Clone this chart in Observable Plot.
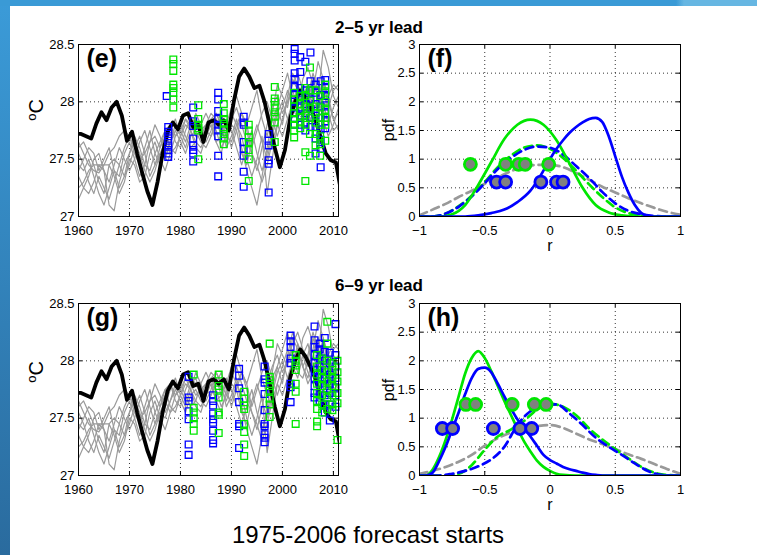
<!DOCTYPE html>
<html>
<head>
<meta charset="utf-8">
<script src="https://cdn.jsdelivr.net/npm/d3@7"></script>
<script src="https://cdn.jsdelivr.net/npm/@observablehq/plot@0.6"></script>
<style>
html,body{margin:0;padding:0;background:#fff;}
#page{position:relative;width:757px;height:555px;overflow:hidden;background:#fff;font-family:"Liberation Sans",Arial,Helvetica,sans-serif;}
#leftbar{position:absolute;left:0;top:0;width:10px;height:555px;background:linear-gradient(#3b9bd8,#2a6b9e);}
#topbar{position:absolute;left:0;top:0;width:757px;height:6px;background:linear-gradient(90deg,#3a9ad6 0,#3a9ad6 676px,#66b6e2 684px,#66b6e2 100%);}
#overlay{position:absolute;left:0;top:0;pointer-events:none;}
</style>
</head>
<body>
<div id="page">
  <div id="leftbar"></div>
  <div id="topbar"></div>
  <svg id="overlay" width="757" height="555" font-family="Liberation Sans, Arial, Helvetica, sans-serif">
    <text x="379" y="33" text-anchor="middle" font-size="17" font-weight="bold">2–5 yr lead</text>
    <text x="379" y="291" text-anchor="middle" font-size="17" font-weight="bold">6–9 yr lead</text>
    <text transform="translate(43,110) rotate(-90)" text-anchor="middle" font-size="20"><tspan font-size="13" dy="-7">o</tspan><tspan dy="7">C</tspan></text>
    <text transform="translate(43,372) rotate(-90)" text-anchor="middle" font-size="20"><tspan font-size="13" dy="-7">o</tspan><tspan dy="7">C</tspan></text>
    <text transform="translate(394,130) rotate(-90)" text-anchor="middle" font-size="16">pdf</text>
    <text transform="translate(394,390) rotate(-90)" text-anchor="middle" font-size="16">pdf</text>
    <text x="550" y="251" text-anchor="middle" font-size="16">r</text>
    <text x="550" y="510" text-anchor="middle" font-size="16">r</text>
    <text x="368" y="543" text-anchor="middle" font-size="24">1975-2006 forecast starts</text>
  </svg>
</div>
<script>
// ---------- time-series data (panels e, g) ----------
const yearTicks = [1960, 1970, 1980, 1990, 2000, 2010];
const sstTicks = [27, 27.5, 28, 28.5];

// observed annual SST (plotted at mid-year)
const obsYears = [1959,1960,1961,1962,1963,1964,1965,1966,1967,1968,1969,1970,1971,1972,1973,1974,1975,1976,1977,1978,1979,1980,1981,1982,1983,1984,1985,1986,1987,1988,1989,1990,1991,1992,1993,1994,1995,1996,1997,1998,1999,2000,2001,2002,2003,2004,2005,2006,2007,2008,2009,2010,2011];
const obsSST = [27.72,27.72,27.70,27.68,27.81,27.91,27.84,27.95,28.00,27.88,27.66,
  27.74,27.55,27.38,27.22,27.10,27.30,27.55,27.74,27.82,27.76,
  27.88,27.90,27.78,27.80,27.65,27.82,27.84,27.80,27.84,27.75,
  28.01,28.22,28.29,28.22,28.12,28.14,28.00,27.80,27.60,27.43,
  27.58,27.85,28.00,28.10,28.04,27.95,27.84,27.69,27.55,27.49,
  27.47,27.22];

// uninitialised model runs (grey)
const runYears = [1960,1961,1962,1963,1964,1965,1966,1967,1968,1969,1970,1971,1972,1973,1974,1975,1976,1977,1978,1979,1980,1981,1982,1983,1984,1985,1986,1987,1988,1989,1990,1991,1992,1993,1994,1995,1996,1997,1998,1999,2000,2001,2002,2003,2004,2005,2006,2007,2008,2009,2010,2011];
const run1 = [27.65,27.55,27.45,27.40,27.38,27.45,27.55,27.60,27.70,27.75,27.70,27.60,27.50,27.55,27.65,27.70,27.60,27.75,27.80,27.70,27.75,27.85,27.80,27.70,27.75,27.80,27.90,27.85,27.70,27.80,27.95,28.05,27.90,27.80,27.95,28.10,27.85,27.70,27.90,28.15,28.05,27.95,28.20,28.10,27.95,28.05,28.25,28.10,27.90,28.05,28.15,28.10];
const run2 = [27.55,27.45,27.30,27.20,27.35,27.25,27.15,27.30,27.45,27.60,27.70,27.55,27.45,27.60,27.75,27.55,27.45,27.60,27.75,27.85,27.70,27.60,27.75,27.90,27.80,27.65,27.75,27.90,27.80,27.60,27.70,27.85,27.60,27.40,27.25,27.10,27.35,27.60,27.85,27.95,27.80,28.05,28.25,28.15,27.95,27.85,28.05,28.20,28.00,27.80,27.95,28.05];
const run3 = [27.45,27.40,27.50,27.35,27.20,27.10,27.25,27.40,27.35,27.55,27.65,27.50,27.35,27.45,27.65,27.80,27.70,27.55,27.65,27.80,27.75,27.65,27.80,27.85,27.70,27.80,27.85,27.75,27.60,27.70,27.85,27.95,27.80,27.65,27.55,27.40,27.60,27.80,27.95,28.05,27.90,28.00,28.10,27.95,28.20,28.30,28.15,28.05,28.45,28.30,28.05,27.95];
const run4 = [27.35,27.25,27.20,27.30,27.45,27.40,27.10,27.05,27.30,27.45,27.55,27.70,27.60,27.45,27.40,27.55,27.65,27.75,27.60,27.55,27.70,27.80,27.75,27.60,27.55,27.70,27.80,27.65,27.55,27.75,27.90,27.80,27.70,27.50,27.35,27.50,27.70,27.20,27.50,27.80,27.95,28.10,27.95,27.85,28.05,28.15,27.95,28.00,28.20,28.05,27.85,27.90];
const run5 = [27.25,27.30,27.40,27.45,27.45,27.45,27.45,27.50,27.45,27.35,27.45,27.60,27.70,27.55,27.35,27.45,27.60,27.70,27.80,27.65,27.60,27.75,27.85,27.80,27.70,27.75,27.70,27.80,27.90,27.75,27.60,27.75,27.90,27.80,27.60,27.75,27.90,28.00,27.85,27.70,27.85,28.00,28.15,28.25,28.10,27.95,28.10,28.35,28.20,27.95,28.10,28.15];
const run6 = [27.15,27.25,27.35,27.50,27.55,27.40,27.30,27.45,27.60,27.50,27.40,27.50,27.65,27.75,27.60,27.45,27.55,27.50,27.65,27.75,27.65,27.55,27.70,27.75,27.65,27.60,27.70,27.85,27.75,27.65,27.80,27.75,27.55,27.45,27.65,27.80,27.65,27.50,27.70,27.90,28.00,27.85,27.95,28.15,28.05,27.90,27.80,27.95,28.10,27.90,27.75,27.80];
const run7 = [27.60,27.65,27.55,27.45,27.30,27.20,27.45,27.35,27.20,27.30,27.50,27.45,27.30,27.35,27.55,27.65,27.50,27.40,27.55,27.70,27.80,27.70,27.60,27.65,27.80,27.90,27.80,27.65,27.70,27.85,27.75,27.60,27.45,27.60,27.75,27.55,27.40,27.55,27.75,27.95,28.10,28.25,28.05,27.90,27.85,28.00,28.20,28.05,27.85,27.70,27.80,27.95];
const run8 = [27.40,27.50,27.60,27.55,27.40,27.50,27.60,27.40,27.25,27.35,27.55,27.65,27.55,27.40,27.30,27.40,27.55,27.65,27.55,27.60,27.70,27.85,27.75,27.65,27.60,27.70,27.85,27.90,27.80,27.70,27.65,27.80,27.90,27.75,27.55,27.45,27.30,27.45,27.65,27.80,27.70,27.85,28.00,28.10,27.95,27.80,27.90,28.05,28.15,28.00,27.85,27.75];
const modelRuns = [run1, run2, run3, run4, run5, run6, run7, run8];

// forecasts, 2-5 yr lead (panel e)
const eBlueYears = [1977.3, 1977.6, 1982.5, 1987.4, 1992.4, 1997.3, 2002.4, 2003.5, 2004.5, 2005.5, 2006.5, 2007.5, 2008.4];
const eBlueVals = [
  [28.05],
  [27.78,27.74,27.70,27.66,27.62,27.58,27.55,27.52],
  [27.95,27.83,27.79,27.68,27.62,27.58,27.55,27.48],
  [28.08,28.02,27.92,27.85,27.80,27.75,27.70,27.53,27.35],
  [27.87,27.82,27.80,27.65,27.59,27.53,27.39,27.26],
  [27.72,27.66,27.62,27.49,27.46,27.21],
  [28.46,28.42,28.36,28.25,28.20,28.13,28.06,28.00,27.95,27.90,27.85,27.80],
  [28.39,28.26,28.12,28.02,27.95,27.88,27.80],
  [28.35,28.10,28.04,27.98,27.90,27.82,27.75],
  [28.43,28.18,28.10,28.02,27.94,27.86,27.78],
  [28.15,28.08,27.98,27.88,27.78,27.68,27.55],
  [28.18,28.06,27.96,27.86,27.76,27.67,27.59,27.43],
  [28.19,28.12,28.05,27.97,27.90,27.83,27.77]
];
const eGreenYears = [1978.6, 1983.5, 1988.5, 1993.4, 1998.5, 2002.3, 2003.5, 2004.5, 2005.4, 2006.5, 2007.4, 2008.4];
const eGreenVals = [
  [28.37,28.33,28.27,28.15,28.12,28.08,28.02,27.95],
  [27.97,27.85,27.80,27.77,27.75,27.50],
  [27.98,27.90,27.85,27.81,27.76,27.72,27.68,27.63],
  [27.80,27.75,27.69,27.65,27.58,27.50,27.31],
  [28.13,28.03,28.00,27.95,27.91,27.87,27.82,27.65],
  [28.08,28.02,27.96,27.90,27.85,27.80,27.75,27.69],
  [28.05,27.98,27.92,27.87,27.82,27.77],
  [28.12,28.05,27.96,27.88,27.80,27.56,27.31],
  [28.30,28.10,28.01,27.94,27.86,27.72,27.53],
  [28.10,27.96,27.90,27.82,27.72,27.62],
  [28.05,27.95,27.86,27.80,27.70,27.63,27.53],
  [28.15,28.08,28.00,27.93,27.86,27.80,27.66]
];

// forecasts, 6-9 yr lead (panel g)
const gBlueYears = [1981.6, 1986.4, 1991.5, 1996.5, 2001.6, 2006.3, 2007.3, 2008.3, 2009.3, 2010.4];
const gBlueVals = [
  [27.86,27.68,27.65,27.56,27.49,27.27,27.18],
  [27.70,27.65,27.61,27.54,27.49,27.46,27.39,27.31,27.28],
  [27.93,27.87,27.76,27.64,27.45,27.43,27.24],
  [27.95,27.84,27.81,27.71,27.57,27.45,27.43,27.36,27.33,27.29],
  [28.22,28.17,28.12,28.02,27.98,27.80,27.77,27.64],
  [28.30,28.18,28.12,28.05,27.98,27.92,27.85,27.78,27.72,27.68],
  [28.15,28.10,28.02,27.95,27.88,27.80,27.72,27.65],
  [28.20,28.08,28.00,27.92,27.85,27.78,27.70,27.62,27.55],
  [28.07,27.98,27.88,27.80,27.72,27.62,27.48],
  [28.32,28.05,27.95,27.85,27.77,27.70,27.60]
];
const gGreenYears = [1982.6, 1987.5, 1992.5, 1997.5, 2002.6, 2006.8, 2007.8, 2008.8, 2009.8, 2010.8];
const gGreenVals = [
  [27.88,27.59,27.55,27.50,27.45,27.39],
  [27.88,27.78,27.75,27.68,27.55,27.53,27.37],
  [27.73,27.67,27.61,27.58,27.45,27.38,27.27,27.17],
  [28.15,27.86,27.83,27.78,27.74,27.67,27.62,27.51],
  [28.05,28.00,27.96,27.92,27.80,27.73,27.45],
  [28.05,27.95,27.88,27.80,27.72,27.65,27.58,27.47,27.43],
  [28.02,27.92,27.85,27.78,27.70,27.62,27.55],
  [28.34,28.15,28.00,27.90,27.82,27.75,27.68,27.58],
  [27.98,27.92,27.85,27.78,27.70,27.62,27.57],
  [28.00,27.90,27.82,27.72,27.63,27.31]
];

// ---------- pdf data (panels f, h) ----------
const rTicks = [-1, -0.5, 0, 0.5, 1];
const pdfTicks = [0, 0.5, 1, 1.5, 2, 2.5, 3];

const fBlueSolidR = [-1,-0.65,-0.55,-0.45,-0.35,-0.25,-0.15,-0.05,0,0.05,0.1,0.15,0.2,0.25,0.3,0.35,0.4,0.45,0.5,0.55,0.6,0.65,0.7,0.75,0.8,1];
const fBlueSolidP = [0,0,0.02,0.06,0.12,0.25,0.45,0.8,1.0,1.18,1.33,1.46,1.56,1.64,1.7,1.72,1.65,1.4,1.05,0.7,0.42,0.2,0.06,0.01,0,0];
const fGreenSolidR = [-1,-0.85,-0.75,-0.65,-0.55,-0.45,-0.35,-0.25,-0.15,-0.05,0.05,0.15,0.25,0.35,0.45,0.55,0.65,1];
const fGreenSolidP = [0,0,0.04,0.2,0.55,0.95,1.35,1.6,1.69,1.6,1.33,0.92,0.5,0.2,0.07,0.02,0,0];
const fBlueDashR = [-1,-0.9,-0.8,-0.7,-0.6,-0.5,-0.4,-0.3,-0.2,-0.1,0,0.1,0.2,0.3,0.4,0.5,0.6,0.7,0.8,0.9,1];
const fBlueDashP = [0,0,0.05,0.17,0.35,0.58,0.83,1.02,1.16,1.22,1.2,1.08,0.88,0.67,0.43,0.23,0.1,0.04,0.01,0,0];
const fGreenDashR = [-1,-0.9,-0.8,-0.7,-0.6,-0.5,-0.4,-0.3,-0.2,-0.1,0,0.1,0.2,0.3,0.4,0.5,0.6,0.7,0.8,0.9,1];
const fGreenDashP = [0,0,0.05,0.18,0.36,0.6,0.86,1.06,1.2,1.24,1.18,1.02,0.8,0.56,0.34,0.16,0.06,0.02,0,0,0];
const fGrayR = [-1,-0.9,-0.8,-0.7,-0.6,-0.5,-0.4,-0.3,-0.2,-0.1,0,0.1,0.2,0.3,0.4,0.5,0.6,0.7,0.8,0.9,1];
const fGrayP = [0.02,0.12,0.22,0.34,0.45,0.57,0.68,0.79,0.86,0.9,0.9,0.86,0.76,0.64,0.52,0.42,0.32,0.23,0.15,0.08,0.03];
const fBlueDotR = [-0.41,-0.34,-0.07,0.05,0.10];
const fBlueDotP = 0.6;
const fGreenDotR = [-0.61,-0.34,-0.24,-0.19,-0.01];
const fGreenDotP = 0.91;

const hBlueSolidR = [-1,-0.95,-0.9,-0.85,-0.8,-0.75,-0.7,-0.65,-0.6,-0.55,-0.5,-0.45,-0.4,-0.35,-0.3,-0.25,-0.2,-0.15,-0.1,-0.05,0,0.05,0.1,0.15,0.2,0.25,0.3,0.35,0.4,0.5,1];
const hBlueSolidP = [0,0,0.05,0.25,0.5,0.8,1.1,1.42,1.7,1.86,1.88,1.8,1.6,1.38,1.17,0.98,0.83,0.68,0.52,0.36,0.27,0.21,0.15,0.11,0.08,0.05,0.025,0.01,0,0,0];
const hGreenSolidR = [-1,-0.95,-0.9,-0.85,-0.8,-0.75,-0.7,-0.65,-0.6,-0.55,-0.5,-0.45,-0.4,-0.35,-0.3,-0.25,-0.2,-0.15,-0.1,-0.05,0,0.05,0.1,0.2,1];
const hGreenSolidP = [0,0,0.1,0.32,0.62,0.98,1.38,1.78,2.05,2.17,2.05,1.82,1.56,1.3,1.06,0.82,0.6,0.42,0.26,0.15,0.08,0.03,0.01,0,0];
const hBlueDashR = [-1,-0.85,-0.75,-0.65,-0.55,-0.45,-0.35,-0.25,-0.15,-0.05,0.05,0.15,0.25,0.35,0.45,0.55,0.65,0.75,0.85,0.95,1];
const hBlueDashP = [0,0,0.03,0.08,0.16,0.28,0.5,0.88,1.12,1.22,1.24,1.08,0.88,0.66,0.5,0.36,0.21,0.08,0.01,0,0];
const hGreenDashR = [-1,-0.8,-0.7,-0.6,-0.5,-0.4,-0.3,-0.2,-0.1,0,0.1,0.2,0.3,0.4,0.5,0.6,0.7,0.8,0.9,1];
const hGreenDashP = [0,0,0.03,0.18,0.45,0.68,0.8,0.95,1.15,1.25,1.2,1.05,0.82,0.63,0.46,0.3,0.15,0.05,0.01,0];
const hGrayR = [-1,-0.9,-0.8,-0.7,-0.6,-0.5,-0.4,-0.3,-0.2,-0.1,0,0.1,0.2,0.3,0.4,0.5,0.6,0.7,0.8,0.9,1];
const hGrayP = [0.03,0.08,0.15,0.24,0.36,0.52,0.65,0.75,0.82,0.86,0.88,0.83,0.73,0.63,0.55,0.46,0.37,0.29,0.2,0.11,0.03];
const hBlueDotR = [-0.825,-0.746,-0.434,-0.23,-0.14];
const hBlueDotP = 0.82;
const hGreenDotR = [-0.644,-0.57,-0.29,-0.12,-0.03];
const hGreenDotP = 1.24;

// ---------- drawing ----------
const FONT = '"Liberation Sans", Arial, Helvetica, sans-serif';
const BLUE = "#0000ff", GREEN = "#00e600", GREY = "#9a9a9a", GREYDASH = "#999999";
const fmt = d => d < 0 ? "\u2212" + Math.abs(d) : String(d);
const gridStyle = {stroke: "#000", strokeOpacity: 0.8, strokeDasharray: "1,3", strokeWidth: 1};

function boxTicks(xt, yt, fw, fh) {
  const L = 4;
  return [
    Plot.tickX(xt, {x: d => d, insetTop: fh - L, stroke: "#000"}),
    Plot.tickX(xt, {x: d => d, insetBottom: fh - L, stroke: "#000"}),
    Plot.tickY(yt, {y: d => d, insetRight: fw - L, stroke: "#000"}),
    Plot.tickY(yt, {y: d => d, insetLeft: fw - L, stroke: "#000"})
  ];
}

function place(chart, left, top) {
  chart.style.position = "absolute";
  chart.style.left = left + "px";
  chart.style.top = top + "px";
  document.getElementById("page").insertBefore(chart, document.getElementById("overlay"));
}

const ML = 58, MT = 10, MR = 12, MB = 28;
const labelText = (label) => Plot.text([label], {text: d => d, frameAnchor: "top-left", dx: 8, dy: 5, fontSize: 25, fontWeight: "bold", textAnchor: "start", lineAnchor: "top"});

function tsPanel(label, blueYears, blueVals, greenYears, greenVals, left, top) {
  const fw = 260, fh = 172;
  const obs = obsYears.map((y, i) => ({t: y + 0.5, v: obsSST[i]}));
  const runs = modelRuns.flatMap((run, k) => run.map((v, i) => ({k, t: runYears[i], v})));
  const sq = (ys, vs) => ys.flatMap((y, i) => vs[i].map(v => ({t: y, v})));
  const chart = Plot.plot({
    width: ML + fw + MR, height: MT + fh + MB,
    marginLeft: ML, marginRight: MR, marginTop: MT, marginBottom: MB,
    style: {fontFamily: FONT, fontSize: "13px", color: "#000", background: "none", overflow: "visible"},
    x: {domain: [1960, 2011], label: null},
    y: {domain: [27, 28.5], label: null},
    marks: [
      Plot.gridX(yearTicks, gridStyle),
      Plot.gridY(sstTicks, gridStyle),
      Plot.line(runs, {x: "t", y: "v", z: "k", stroke: GREY, strokeWidth: 1.2, clip: true}),
      Plot.line(obs, {x: "t", y: "v", stroke: "#000", strokeWidth: 3.8, clip: true}),
      Plot.dot(sq(blueYears, blueVals), {x: "t", y: "v", symbol: "square", r: 3.8, stroke: BLUE, strokeWidth: 1.3, fill: "none"}),
      Plot.dot(sq(greenYears, greenVals), {x: "t", y: "v", symbol: "square", r: 3.8, stroke: GREEN, strokeWidth: 1.3, fill: "none"}),
      ...boxTicks(yearTicks, sstTicks, fw, fh),
      Plot.frame({stroke: "#000"}),
      Plot.axisX(yearTicks, {tickSize: 0, tickPadding: 9, tickFormat: d => String(d), label: null}),
      Plot.axisY(sstTicks, {tickSize: 0, tickPadding: 4, tickFormat: fmt, label: null}),
      labelText(label)
    ]
  });
  place(chart, left, top);
}

function pdfPanel(label, curves, dots, left, top) {
  const fw = 261, fh = 172;
  const lines = curves.map(c => Plot.line(c.r.map((r, i) => ({r, p: c.p[i]})), {
    x: "r", y: "p", stroke: c.color, strokeWidth: 2.7, curve: "monotone-x",
    strokeDasharray: c.dash ? "8,5" : null, clip: true
  }));
  const dotMarks = dots.map(d => Plot.dot(d.r.map(r => ({r, p: d.p})), {
    x: "r", y: "p", r: 6, fill: "#808080", stroke: d.color, strokeWidth: 2.8
  }));
  const chart = Plot.plot({
    width: ML + fw + MR, height: MT + fh + MB,
    marginLeft: ML, marginRight: MR, marginTop: MT, marginBottom: MB,
    style: {fontFamily: FONT, fontSize: "13px", color: "#000", background: "none", overflow: "visible"},
    x: {domain: [-1, 1], label: null},
    y: {domain: [0, 3], label: null},
    marks: [
      Plot.gridX(rTicks, gridStyle),
      Plot.gridY(pdfTicks, gridStyle),
      ...lines,
      ...dotMarks,
      ...boxTicks(rTicks, pdfTicks, fw, fh),
      Plot.frame({stroke: "#000"}),
      Plot.axisX(rTicks, {tickSize: 0, tickPadding: 9, tickFormat: fmt, label: null}),
      Plot.axisY(pdfTicks, {tickSize: 0, tickPadding: 4, tickFormat: fmt, label: null}),
      labelText(label)
    ]
  });
  place(chart, left, top);
}

tsPanel("(e)", eBlueYears, eBlueVals, eGreenYears, eGreenVals, 78 - ML, 44 - MT);
tsPanel("(g)", gBlueYears, gBlueVals, gGreenYears, gGreenVals, 78 - ML, 303 - MT);

pdfPanel("(f)", [
  {r: fGrayR, p: fGrayP, color: GREYDASH, dash: true},
  {r: fGreenDashR, p: fGreenDashP, color: GREEN, dash: true},
  {r: fBlueDashR, p: fBlueDashP, color: BLUE, dash: true},
  {r: fGreenSolidR, p: fGreenSolidP, color: GREEN, dash: false},
  {r: fBlueSolidR, p: fBlueSolidP, color: BLUE, dash: false}
], [
  {r: fGreenDotR, p: fGreenDotP, color: GREEN},
  {r: fBlueDotR, p: fBlueDotP, color: BLUE}
], 419 - ML, 44 - MT);

pdfPanel("(h)", [
  {r: hGrayR, p: hGrayP, color: GREYDASH, dash: true},
  {r: hGreenDashR, p: hGreenDashP, color: GREEN, dash: true},
  {r: hBlueDashR, p: hBlueDashP, color: BLUE, dash: true},
  {r: hGreenSolidR, p: hGreenSolidP, color: GREEN, dash: false},
  {r: hBlueSolidR, p: hBlueSolidP, color: BLUE, dash: false}
], [
  {r: hGreenDotR, p: hGreenDotP, color: GREEN},
  {r: hBlueDotR, p: hBlueDotP, color: BLUE}
], 419 - ML, 303 - MT);
</script>
</body>
</html>
